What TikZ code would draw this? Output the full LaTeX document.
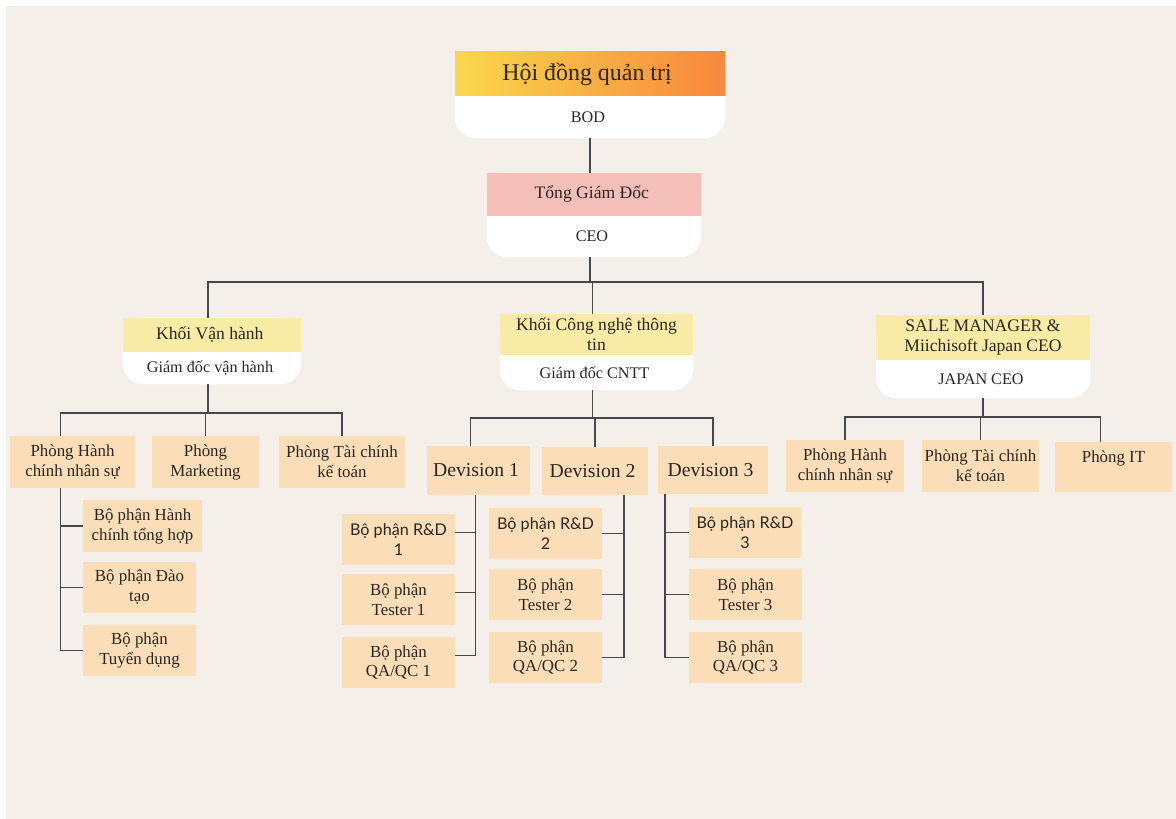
\documentclass[tikz,border=0pt]{standalone}
\usepackage{fontspec}
\setmainfont{Liberation Serif}
\newfontfamily\sanstext{Lato}
\usetikzlibrary{positioning,calc,backgrounds}
\usepackage{xcolor}

\definecolor{pagebg}{HTML}{F4EFE9}
\definecolor{peach}{HTML}{FBDDB8}
\definecolor{headyellow}{HTML}{F8EBA6}
\definecolor{headpink}{HTML}{F5BFB9}
\definecolor{bodyellow}{HTML}{F9D84C}
\definecolor{bodorange}{HTML}{F7873C}
\definecolor{inkdark}{HTML}{2A2624}
\definecolor{linegray}{HTML}{484848}

\newlength\unitpx
\setlength\unitpx{0.025cm}

\newcommand{\fsbig}{\fontsize{17}{20}\selectfont}
\newcommand{\fshead}{\fontsize{12.5}{14.5}\selectfont}
\newcommand{\fsrole}{\fontsize{11.5}{13.5}\selectfont}
\newcommand{\fsdept}{\fontsize{12}{14.2}\selectfont}
\newcommand{\fsdiv}{\fontsize{14}{16}\selectfont}
\newcommand{\fssans}{\sanstext\fontsize{11.5}{14.2}\selectfont}

\begin{document}
\begin{tikzpicture}[x=0.025cm, y=-0.025cm,
    every node/.style={
        text=inkdark,
        inner sep=0pt,
        align=center
    },
    boxsize/.style 2 args={minimum width=#1\unitpx, minimum height=#2\unitpx},
    link/.style={draw=linegray, line width=1.3pt},
    headtext/.style={font=\fshead},
    roletext/.style={font=\fsrole},
    dept/.style={fill=peach, font=\fsdept},
    sansdept/.style={fill=peach, font=\fssans},
    divbox/.style={fill=peach, font=\fsdiv}
]
    \useasboundingbox (0,0) rectangle (1176,819);

    %top
    \node (bod_title) [headtext, font=\fsbig, left color=bodyellow, right color=bodorange, boxsize={270}{44}] at (590,74)
    {
        Hội đồng quản trị
    };
    \node (bod_role) [roletext, boxsize={270}{42}] at (590,117)
    {
        BOD
    };

    \node (ceo_title) [headtext, fill=headpink, boxsize={214}{43}] at (594,194.5)
    {
        Tổng Giám Đốc
    };
    \node (ceo_role) [roletext, boxsize={214}{41}] at (594,236.5)
    {
        CEO
    };

    %blocks
    \node (ops_title) [headtext, fill=headyellow, boxsize={178}{34}] at (212,335)
    {
        Khối Vận hành
    };
    \node (ops_role) [roletext, boxsize={178}{32}] at (212,368)
    {
        Giám đốc vận hành
    };

    \node (it_title) [headtext, fill=headyellow, boxsize={193}{41}] at (596.5,334.5)
    {
        Khối Công nghệ thông\\tin
    };
    \node (it_role) [roletext, boxsize={193}{35}] at (596.5,372.5)
    {
        Giám đốc CNTT
    };

    \node (jp_title) [headtext, fill=headyellow, boxsize={214}{45}] at (983,337.5)
    {
        SALE MANAGER \&\\Miichisoft Japan CEO
    };
    \node (jp_role) [roletext, boxsize={214}{38}] at (983,379)
    {
        JAPAN CEO
    };

    %operations
    \node (hr) [dept, boxsize={125}{52}] at (72.5,462)
    {
        Phòng Hành\\chính nhân sự
    };
    \node (mkt) [dept, boxsize={107}{52}] at (205.5,462)
    {
        Phòng\\Marketing
    };
    \node (fin) [dept, boxsize={126}{52}] at (342,462)
    {
        Phòng Tài chính\\kế toán
    };
    \node (hr_general) [dept, boxsize={119}{52}] at (142.5,526)
    {
        Bộ phận Hành\\chính tổng hợp
    };
    \node (hr_training) [dept, boxsize={113}{51}] at (139.5,587.5)
    {
        Bộ phận Đào\\tạo
    };
    \node (hr_recruit) [dept, boxsize={113}{51}] at (139.5,650.5)
    {
        Bộ phận\\Tuyển dụng
    };

    %technology
    \node (div1) [divbox, boxsize={103}{49}] at (478.5,470.5)
    {
        Devision 1
    };
    \node (div2) [divbox, boxsize={106}{48}] at (595,471)
    {
        Devision 2
    };
    \node (div3) [divbox, boxsize={110}{48}] at (713,470)
    {
        Devision 3
    };

    \node (rd1) [sansdept, boxsize={113}{51}] at (398.5,539.5)
    {
        Bộ phận R\&D\\1
    };
    \node (test1) [dept, boxsize={113}{51}] at (398.5,599.5)
    {
        Bộ phận\\Tester 1
    };
    \node (qa1) [dept, boxsize={113}{51}] at (398.5,662.5)
    {
        Bộ phận\\QA/QC 1
    };

    \node (rd2) [sansdept, boxsize={113}{51}] at (545.5,533.5)
    {
        Bộ phận R\&D\\2
    };
    \node (test2) [dept, boxsize={113}{51}] at (545.5,594.5)
    {
        Bộ phận\\Tester 2
    };
    \node (qa2) [dept, boxsize={113}{51}] at (545.5,657.5)
    {
        Bộ phận\\QA/QC 2
    };

    \node (rd3) [sansdept, boxsize={112}{51}] at (745,532.5)
    {
        Bộ phận R\&D\\3
    };
    \node (test3) [dept, boxsize={113}{51}] at (745.5,594.5)
    {
        Bộ phận\\Tester 3
    };
    \node (qa3) [dept, boxsize={113}{51}] at (745.5,657.5)
    {
        Bộ phận\\QA/QC 3
    };

    %japan
    \node (jp_hr) [dept, boxsize={118}{52}] at (845,466)
    {
        Phòng Hành\\chính nhân sự
    };
    \node (jp_fin) [dept, boxsize={117}{52}] at (980.5,466)
    {
        Phòng Tài chính\\kế toán
    };
    \node (jp_it) [dept, boxsize={117}{50}] at (1113.5,467)
    {
        Phòng IT\\~
    };

    %links
    \coordinate (ceo_bus) at ($(ceo_role.south)+(-4,25)$);
    \coordinate (ops_bus) at ($(ops_role.south)+(-4,29)$);
    \coordinate (it_bus) at ($(it_role.south)+(-4,28)$);
    \coordinate (jp_bus) at ($(jp_role.south)+(0,19)$);

    \draw[link] (bod_role.south) to (bod_role.south |- ceo_title.north);
    \draw[link] (ceo_bus |- ceo_role.south) to (ceo_bus);
    \draw[link] (ceo_bus) -| ($(ops_title.north)+(-4,0)$);
    \draw[link] (ceo_bus) -| ($(it_title.north)+(-4,0)$);
    \draw[link] (ceo_bus) -| (jp_title.north);

    \draw[link] (ops_bus |- ops_role.south) to (ops_bus);
    \draw[link] (ops_bus) -| ($(hr.north)+(-12,0)$);
    \draw[link] (ops_bus) -| (mkt.north);
    \draw[link] (ops_bus) -| (fin.north);
    \draw[link] ($(hr.south)+(-12,0)$) |- (hr_general.west);
    \draw[link] ($(hr.south)+(-12,0)$) |- (hr_training.west);
    \draw[link] ($(hr.south)+(-12,0)$) |- (hr_recruit.west);

    \draw[link] (it_bus |- it_role.south) to (it_bus);
    \draw[link] (it_bus) -| ($(div1.north)+(-8,0)$);
    \draw[link] (it_bus) -| (div2.north);
    \draw[link] (it_bus) -| (div3.north);
    \draw[link] ($(div1.south)+(-3,0)$) |- ([yshift=5pt]rd1.east);
    \draw[link] ($(div1.south)+(-3,0)$) |- ([yshift=5pt]test1.east);
    \draw[link] ($(div1.south)+(-3,0)$) |- ([yshift=5pt]qa1.east);
    \draw[link] ($(div2.south)+(29,0)$) |- (rd2.east);
    \draw[link] ($(div2.south)+(29,0)$) |- (test2.east);
    \draw[link] ($(div2.south)+(29,0)$) |- (qa2.east);
    \draw[link] ($(div3.south)+(-48,0)$) |- (rd3.west);
    \draw[link] ($(div3.south)+(-48,0)$) |- (test3.west);
    \draw[link] ($(div3.south)+(-48,0)$) |- (qa3.west);

    \draw[link] (jp_role.south) to (jp_bus);
    \draw[link] (jp_bus) -| (jp_hr.north);
    \draw[link] (jp_bus) -| (jp_fin.north);
    \draw[link] (jp_bus) -| ($(jp_it.north)+(-13,0)$);

    %cards
    \begin{scope}[on background layer]
        \fill[white] (0,0) rectangle (1176,819);
        \fill[pagebg] (6,6) rectangle (1176,819);
        \foreach \card in {bod,ceo,ops,it,jp}
            \fill[white, rounded corners=15pt] (\card_title.north west) rectangle (\card_role.south east);
    \end{scope}

\end{tikzpicture}
\end{document}
